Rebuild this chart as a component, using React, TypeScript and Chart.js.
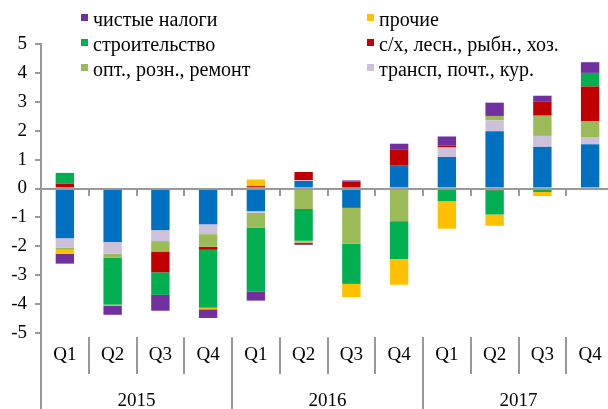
import React, { useEffect, useRef } from "react";
import { Chart, registerables } from "chart.js";

Chart.register(...registerables);

const quarters = ["Q1", "Q2", "Q3", "Q4", "Q1", "Q2", "Q3", "Q4", "Q1", "Q2", "Q3", "Q4"];
const years = ["2015", "2016", "2017"];
const yTicks = [-5, -4, -3, -2, -1, 0, 1, 2, 3, 4, 5];

// dataset order = stacking order from zero outward
const industry = [-1.72, -1.85, -1.44, -1.24, -0.78, 0.26, -0.67, 0.79, 1.09, 1.98, 1.44, 1.53];
const transport = [-0.32, -0.4, -0.38, -0.34, -0.06, 0.03, 0.03, 0, 0.31, 0.38, 0.38, 0.23];
const trade = [-0.08, -0.14, -0.36, -0.44, -0.52, -0.71, -1.24, -1.13, 0.03, 0.15, 0.7, 0.56];
const agriculture = [0.17, 0, -0.72, -0.1, 0.08, 0.28, 0.21, 0.55, 0.05, -0.06, 0.48, 1.21];
const construction = [0.37, -1.63, -0.78, -2.01, -2.21, -1.1, -1.39, -1.31, -0.44, -0.84, -0.12, 0.47];
const other = [-0.14, -0.03, 0, -0.05, 0.23, -0.06, -0.46, -0.89, -0.95, -0.39, -0.14, -0.03];
const netTaxes = [-0.34, -0.32, -0.55, -0.3, -0.31, -0.08, 0.04, 0.21, 0.32, 0.46, 0.21, 0.37];

const seriesNames = [
  "промышленность",
  "трансп, почт., кур.",
  "опт., розн., ремонт",
  "с/х, лесн., рыбн., хоз.",
  "строительство",
  "прочие",
  "чистые налоги",
];
const seriesColors = ["#0070C0", "#CCC0DA", "#9BBB59", "#C00000", "#00B050", "#FFC000", "#7030A0"];
const seriesData = [industry, transport, trade, agriculture, construction, other, netTaxes];

// legend layout: [series index, column, row]
const legendItems: [number, number, number][] = [
  [6, 0, 0],
  [5, 1, 0],
  [4, 0, 1],
  [3, 1, 1],
  [2, 0, 2],
  [1, 1, 2],
];

const FONT = "Liberation Serif";
const FONT_SIZE = 19;
const LEGEND_FONT_SIZE = 20;
const AXIS_COLOR = "#999999";

const overlayPlugin = {
  id: "overlay",
  afterDatasetsDraw(chart: any) {
    const { ctx, chartArea: a, scales } = chart;
    const y0 = Math.round(scales.y.getPixelForValue(0));
    const n = quarters.length;
    const cw = (a.right - a.left) / n;
    ctx.save();
    ctx.strokeStyle = AXIS_COLOR;
    ctx.lineWidth = 2;
    ctx.beginPath();
    ctx.moveTo(a.left, y0);
    ctx.lineTo(a.right, y0);
    for (let i = 1; i <= n; i++) {
      const x = Math.round(a.left + i * cw);
      ctx.moveTo(x, y0);
      ctx.lineTo(x, y0 + 7);
    }
    ctx.stroke();
    ctx.restore();
  },
  afterDraw(chart: any) {
    const { ctx, chartArea: a, scales } = chart;
    const H = chart.height;
    const n = quarters.length;
    const cw = (a.right - a.left) / n;
    ctx.save();
    // axis extension and separators
    ctx.strokeStyle = AXIS_COLOR;
    ctx.lineWidth = 2;
    ctx.beginPath();
    ctx.moveTo(a.left, a.bottom);
    ctx.lineTo(a.left, H);
    for (let i = 1; i < n; i++) {
      const x = Math.round(a.left + i * cw);
      if (i % 4 === 0) {
        ctx.moveTo(x, a.bottom + 4);
        ctx.lineTo(x, H);
      } else {
        ctx.moveTo(x, a.bottom + 4);
        ctx.lineTo(x, a.bottom + 41);
      }
    }
    ctx.stroke();

    ctx.fillStyle = "#000";
    ctx.font = `${FONT_SIZE}px "${FONT}"`;
    ctx.textAlign = "center";
    ctx.textBaseline = "middle";
    for (let i = 0; i < n; i++) {
      const x = scales.x.getPixelForValue(i);
      ctx.fillText(quarters[i], x, a.bottom + 22);
    }
    for (let j = 0; j < years.length; j++) {
      const x = a.left + (j * 4 + 2) * cw;
      ctx.fillText(years[j], x, a.bottom + 68);
    }

    // legend
    ctx.font = `${LEGEND_FONT_SIZE}px "${FONT}"`;
    ctx.textAlign = "left";
    ctx.textBaseline = "alphabetic";
    const colSquare = [81, 367];
    const rowBase = [26, 51, 76];
    for (const [si, col, row] of legendItems) {
      ctx.fillStyle = seriesColors[si];
      ctx.fillRect(colSquare[col], rowBase[row] - 12, 7, 7);
      ctx.fillStyle = "#000";
      ctx.fillText(seriesNames[si], colSquare[col] + 12, rowBase[row]);
    }
    ctx.restore();
  },
};

export default function App() {
  const ref = useRef<HTMLCanvasElement | null>(null);
  useEffect(() => {
    if (!ref.current) return;
    const chart = new Chart(ref.current, {
      type: "bar",
      data: {
        labels: quarters,
        datasets: seriesData.map((d, i) => ({
          label: seriesNames[i],
          data: d,
          backgroundColor: seriesColors[i],
          borderWidth: 0,
          barPercentage: 0.385,
          categoryPercentage: 1,
        })),
      },
      options: {
        animation: false,
        responsive: false,
        devicePixelRatio: 1,
        layout: { padding: { top: 44, bottom: 76, left: 0, right: 0 } },
        plugins: { legend: { display: false }, tooltip: { enabled: false } },
        scales: {
          x: { stacked: true, display: false, offset: true },
          y: {
            stacked: true,
            min: -5,
            max: 5,
            afterBuildTicks: (s: any) => {
              s.ticks = yTicks.map((v) => ({ value: v }));
            },
            afterFit: (s: any) => {
              s.width = 41;
            },
            ticks: {
              color: "#000",
              font: { family: FONT, size: FONT_SIZE },
              padding: 8,
            },
            grid: {
              drawOnChartArea: false,
              drawTicks: true,
              tickLength: 6,
              color: AXIS_COLOR,
              lineWidth: 2,
            },
            border: { display: true, color: AXIS_COLOR, width: 2 },
          },
        },
      },
      plugins: [overlayPlugin],
    });
    return () => chart.destroy();
  }, []);
  return (
    <div
      style={{
        position: "fixed",
        left: 0,
        top: 0,
        width: 608,
        height: 409,
        overflow: "hidden",
        background: "#fff",
      }}
    >
      <canvas ref={ref} width={614} height={409} style={{ display: "block" }} />
    </div>
  );
}
